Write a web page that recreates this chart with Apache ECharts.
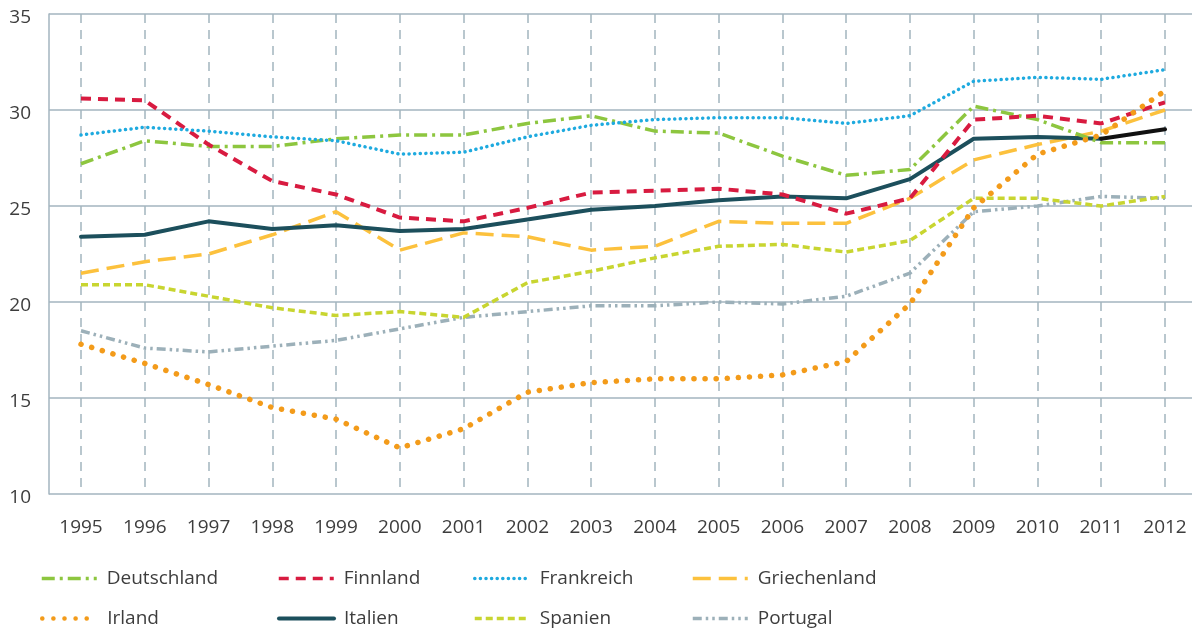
<!DOCTYPE html>
<html>
<head>
<meta charset="utf-8">
<script src="https://cdn.jsdelivr.net/npm/echarts@6/dist/echarts.min.js"></script>
<style>
html,body{margin:0;padding:0;background:#fff;}
#chart{width:1192px;height:628px;}
</style>
</head>
<body>
<div id="chart"></div>
<script>
const years = ['1995','1996','1997','1998','1999','2000','2001','2002','2003','2004','2005','2006','2007','2008','2009','2010','2011','2012'];
const yTicks = [10, 15, 20, 25, 30, 35];
const deutschland  = [27.2,28.4,28.1,28.1,28.5,28.7,28.7,29.3,29.7,28.9,28.8,27.6,26.6,26.9,30.2,29.5,28.3,28.3];
const finnland     = [30.6,30.5,28.2,26.3,25.6,24.4,24.2,24.9,25.7,25.8,25.9,25.6,24.6,25.4,29.5,29.7,29.3,30.4];
const frankreich   = [28.7,29.1,28.9,28.6,28.4,27.7,27.8,28.6,29.2,29.5,29.6,29.6,29.3,29.7,31.5,31.7,31.6,32.1];
const griechenland = [21.5,22.1,22.5,23.5,24.7,22.7,23.6,23.4,22.7,22.9,24.2,24.1,24.1,25.4,27.4,28.2,28.9,30.0];
const irland       = [17.8,16.8,15.7,14.5,13.9,12.4,13.4,15.3,15.8,16.0,16.0,16.2,16.9,19.9,24.9,27.7,28.7,31.0];
const italien      = [23.4,23.5,24.2,23.8,24.0,23.7,23.8,24.3,24.8,25.0,25.3,25.5,25.4,26.4,28.5,28.6,28.5,29.0];
const spanien      = [20.9,20.9,20.3,19.7,19.3,19.5,19.2,21.0,21.6,22.3,22.9,23.0,22.6,23.2,25.4,25.4,25.0,25.5];
const portugal     = [18.5,17.6,17.4,17.7,18.0,18.6,19.2,19.5,19.8,19.8,20.0,19.9,20.3,21.5,24.7,25.0,25.5,25.4];

const FONT = '"Open Sans", "DejaVu Sans", sans-serif';
const TXT = '#3d3d3d';
const GRIDC = '#a3b5bf';

function line(name, data, color, width, type, cap, z) {
  return {
    type: 'line', name: name, data: data,
    xAxisIndex: 1, yAxisIndex: 1,
    symbol: 'none', showSymbol: false, silent: true, z: z || 2,
    lineStyle: { color: color, width: width, type: type, cap: cap || 'butt', join: 'round' },
    itemStyle: { color: color }
  };
}

const lastIdx = years.length - 2;
const italienMain = italien.map((v, i) => i <= lastIdx ? v : null);
const italienLast = italien.map((v, i) => i >= lastIdx ? v : null);

const series = [
  line('Portugal', portugal, '#9cb0b9', 3.5, [9,4,2.5,4,2.5,4], 'butt', 2),
  line('Spanien', spanien, '#c8d530', 3.5, [7,4], 'butt', 2),
  line('Griechenland', griechenland, '#fcc13d', 3.5, [18,8], 'butt', 3),
  line('Italien', italienMain, '#1c4f5c', 4, 'solid', 'round', 3),
  line('Italien_end', italienLast, '#111111', 4, 'solid', 'round', 4),
  line('Deutschland', deutschland, '#8dc63f', 3.5, [13,5,3,5], 'butt', 3),
  line('Finnland', finnland, '#d81b40', 4, [10,7], 'butt', 3),
  line('Frankreich', frankreich, '#1eaadf', 3.5, [0.1,5.5], 'round', 3),
  line('Irland', irland, '#f39b1a', 5.5, [0.1,11], 'round', 5)
];

const legendNames = [['Deutschland','Finnland','Frankreich','Griechenland'],['Irland','Italien','Spanien','Portugal']];
const legendLeft = [35, 272, 468, 686];
const legendTop = [564, 604];
const legendWidths = { Italien: 4, Irland: 4.5 };
const legends = [];
legendNames.forEach((row, r) => row.forEach((n, c) => {
  legends.push({
    data: [n], left: legendLeft[c], top: legendTop[r], orient: 'horizontal',
    itemWidth: 55, itemHeight: 14, selectedMode: false,
    itemStyle: { color: 'rgba(0,0,0,0)', borderColor: 'rgba(0,0,0,0)', borderWidth: 0, opacity: 0 },
    lineStyle: { width: legendWidths[n] || 3.5 },
    textStyle: { fontFamily: FONT, fontSize: 19, color: TXT, padding: [0,0,0,5] }
  });
}));

const chart = echarts.init(document.getElementById('chart'), null, { renderer: 'canvas' });
chart.setOption({
  animation: false,
  backgroundColor: '#fff',
  grid: [
    { left: 49, right: 0, top: 14, height: 480 },
    { left: 81, width: 1084, top: 14, height: 480 }
  ],
  xAxis: [
    { gridIndex: 0, type: 'value', min: 0, max: 1, show: false },
    { gridIndex: 1, type: 'category', data: years, boundaryGap: false,
      axisLine: { show: false }, axisTick: { show: false },
      axisLabel: { margin: 24, fontFamily: FONT, fontSize: 19, color: TXT },
      splitLine: { show: true, lineStyle: { color: GRIDC, width: 1.5, type: [9,7] } } }
  ],
  yAxis: [
    { gridIndex: 0, type: 'value', min: yTicks[0], max: yTicks[yTicks.length-1], interval: 5,
      axisLine: { show: true, lineStyle: { color: GRIDC, width: 1.5 } },
      axisTick: { show: false },
      axisLabel: { margin: 18, color: TXT, formatter: '{a|{value}}',
        rich: { a: { fontFamily: FONT, fontSize: 19, color: TXT, padding: [8,0,0,0] } } },
      splitLine: { show: true, lineStyle: { color: GRIDC, width: 1.5 } } },
    { gridIndex: 1, type: 'value', min: yTicks[0], max: yTicks[yTicks.length-1], show: false, splitLine: { show: false } }
  ],
  legend: legends,
  series: series
});
</script>
</body>
</html>
